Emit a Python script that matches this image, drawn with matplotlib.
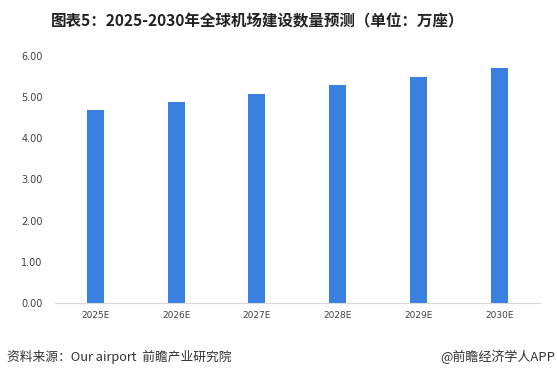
import matplotlib
matplotlib.use("Agg")
import matplotlib.pyplot as plt

plt.rcParams['font.family'] = ['Noto Sans CJK SC', 'DejaVu Sans']

categories = ["2025E", "2026E", "2027E", "2028E", "2029E", "2030E"]
values = [4.68, 4.89, 5.08, 5.28, 5.49, 5.71]
yticks = [0, 1, 2, 3, 4, 5, 6]

fig = plt.figure(figsize=(5.57, 3.77), dpi=100)
ax = fig.add_axes([0.0987, 0.196, 0.8703, 0.656])
x = range(len(categories))
ax.bar(x, values, width=0.21, color="#3A80E0", zorder=2)
ax.set_xlim(-0.5, len(categories) - 0.5)
ax.set_ylim(0, 6)
ax.set_yticks(yticks)
ax.set_yticklabels([f"{v:.2f}" for v in yticks], fontsize=7, color="#404040", family="DejaVu Sans")
ax.set_xticks(list(x))
ax.set_xticklabels(categories, fontsize=6.5, color="#404040", family="DejaVu Sans")
for s in ["top", "right", "left"]:
    ax.spines[s].set_visible(False)
ax.spines["bottom"].set_color("#D9D9D9")
ax.spines["bottom"].set_linewidth(0.8)
ax.tick_params(axis="both", length=0, pad=6)
ax.tick_params(axis="y", pad=9)

fig.text(0.462, 0.944, "图表5：2025-2030年全球机场建设数量预测（单位：万座）",
         ha="center", va="center", fontsize=11.2, fontweight="bold", color="#222222")
fig.text(0.012, 0.053, "资料来源：Our airport  前瞻产业研究院", ha="left", va="center",
         fontsize=9.2, color="#333333")
fig.text(0.997, 0.053, "@前瞻经济学人APP", ha="right", va="center",
         fontsize=9.4, color="#333333")

fig.savefig("out.png", dpi=100)
